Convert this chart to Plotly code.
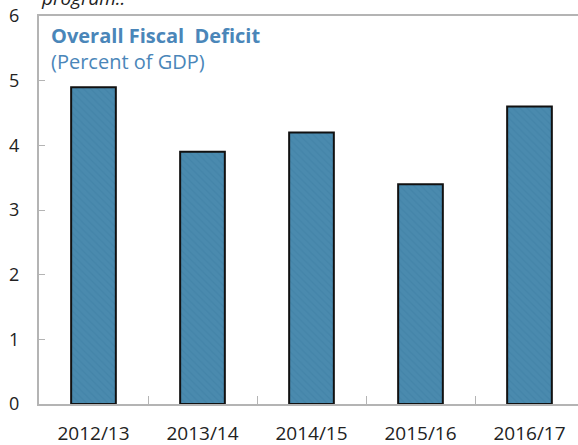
import plotly.graph_objects as go

# Overall fiscal deficit, percent of GDP, by fiscal year
years = ["2012/13", "2013/14", "2014/15", "2015/16", "2016/17"]
deficit = [4.9, 3.9, 4.2, 3.4, 4.6]
y_ticks = [0, 1, 2, 3, 4, 5, 6]

BAR_BLUE = "#4a8aae"
TITLE_BLUE = "#4a86b9"
AXIS_GREY = "#b4b4b4"
FONT = "Open Sans, Noto Sans, DejaVu Sans, sans-serif"

fig = go.Figure(
    go.Bar(
        x=years,
        y=deficit,
        width=0.41,
        marker=dict(
            color=BAR_BLUE,
            line=dict(color="#111111", width=2),
            pattern=dict(shape="\\", fgcolor="#3d7ea3", size=5, solidity=0.25),
        ),
        hoverinfo="x+y",
    )
)

fig.update_layout(
    width=578,
    height=445,
    margin=dict(l=39, r=0, t=16, b=41),
    paper_bgcolor="white",
    plot_bgcolor="white",
    showlegend=False,
    font=dict(family=FONT, size=18, color="#222222"),
    bargap=0.59,
)

fig.update_xaxes(
    type="category",
    range=[-0.5, 4.445],
    showline=True,
    linecolor=AXIS_GREY,
    linewidth=2,
    mirror=True,
    ticks="inside",
    tickson="boundaries",
    ticklen=8,
    tickwidth=1,
    tickcolor=AXIS_GREY,
    ticklabelstandoff=11,
    showgrid=False,
    zeroline=False,
    tickfont=dict(size=19, color="#222222"),
)

fig.update_yaxes(
    range=[0, 6],
    tickvals=y_ticks,
    showline=True,
    linecolor=AXIS_GREY,
    linewidth=2,
    ticks="inside",
    ticklen=6,
    tickwidth=1,
    tickcolor=AXIS_GREY,
    ticklabelstandoff=14,
    showgrid=False,
    zeroline=False,
    tickfont=dict(size=18, color="#222222"),
)

fig.add_annotation(
    text="<b>Overall Fiscal  Deficit</b>",
    xref="paper", yref="paper", x=0.018, y=0.95,
    xanchor="left", yanchor="middle", showarrow=False,
    font=dict(family=FONT, size=20, color=TITLE_BLUE),
)
fig.add_annotation(
    text="(Percent of GDP)",
    xref="paper", yref="paper", x=0.018, y=0.883,
    xanchor="left", yanchor="middle", showarrow=False,
    font=dict(family=FONT, size=20, color=TITLE_BLUE),
)
fig.add_annotation(
    text="<i>program..</i>",
    xref="paper", yref="paper", x=0.0, y=1.008,
    xanchor="left", yanchor="bottom", showarrow=False,
    font=dict(family=FONT, size=19, color="#222222"),
)

fig.write_html("out.html")
